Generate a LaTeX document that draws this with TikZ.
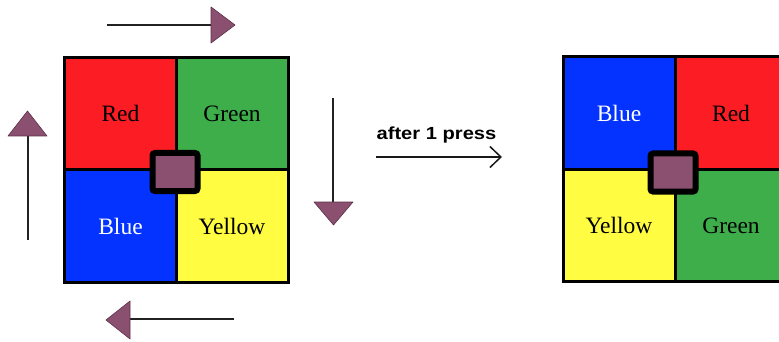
\documentclass[tikz,border=0pt]{standalone}
\usepackage{fontspec}
\setmainfont{Liberation Serif}
\newfontfamily\labelsans{Liberation Sans}
\usepackage{graphicx}
\usetikzlibrary{arrows.meta}
\definecolor{cred}{HTML}{FC1C24}
\definecolor{cgreen}{HTML}{3DAE4A}
\definecolor{cblue}{HTML}{0433FF}
\definecolor{cyellow}{HTML}{FFFC41}
\definecolor{knobpurple}{HTML}{8B5070}
\definecolor{shaftgray}{HTML}{222222}
\definecolor{headedge}{HTML}{5A3048}
\begin{document}
\begin{tikzpicture}[x=1pt,y=-1pt,
  cell/.style={rectangle, draw=black, line width=3pt, minimum width=112pt, minimum height=112.5pt, inner sep=0pt, font=\fontsize{23.5}{25}\selectfont},
  knob/.style={rectangle, rounded corners=2.5pt, fill=knobpurple, draw=black, line width=6pt, minimum width=45pt, minimum height=38pt},
  shaft/.style={line width=2.8pt, draw=shaftgray},
  head/.style={fill=knobpurple, draw=headedge, line width=0.6pt, line join=round}]
\useasboundingbox (0,0) rectangle (779,342);

% left grid
\node[cell, fill=cred] (lred) at (120.5,113.5) {Red};
\node[cell, fill=cgreen] (lgreen) at (232,113.5) {Green};
\node[cell, fill=cblue, text=white] (lblue) at (120.5,226) {Blue};
\node[cell, fill=cyellow] (lyellow) at (232,226) {Yellow};
\node[knob] (lknob) at (175,172) {};

% right grid
\node[cell, fill=cblue, text=white] (rblue) at (619,113) {Blue};
\node[cell, fill=cred] (rred) at (731,113) {Red};
\node[cell, fill=cyellow] (ryellow) at (619,225.5) {Yellow};
\node[cell, fill=cgreen] (rgreen) at (731,225.5) {Green};
\node[knob] (rknob) at (673,172.5) {};

% top arrow (right)
\coordinate (ts) at (107,25);
\coordinate (tb) at (211,25);
\coordinate (ta) at (211,7);
\coordinate (tc) at (211,43);
\coordinate (tt) at (235,25);
\draw[shaft] (ts) -- (tb);
\filldraw[head] (ta) -- (tt) -- (tc) -- cycle;

% right arrow (down)
\coordinate (rs) at (333,98);
\coordinate (rb) at (333,202);
\coordinate (ra) at (314,202);
\coordinate (rc) at (353,202);
\coordinate (rt) at (333.5,225);
\draw[shaft] (rs) -- (rb);
\filldraw[head] (ra) -- (rt) -- (rc) -- cycle;

% bottom arrow (left)
\coordinate (bs) at (234,319);
\coordinate (bb) at (130,319);
\coordinate (ba) at (130,301);
\coordinate (bc) at (130,339);
\coordinate (bt) at (106,320);
\draw[shaft] (bs) -- (bb);
\filldraw[head] (ba) -- (bt) -- (bc) -- cycle;

% left arrow (up)
\coordinate (ls) at (28,240);
\coordinate (lb) at (28,136);
\coordinate (la) at (8,136);
\coordinate (lc) at (47,136);
\coordinate (lt) at (27.5,111);
\draw[shaft] (ls) -- (lb);
\filldraw[head] (la) -- (lt) -- (lc) -- cycle;

% middle arrow
\coordinate (m1) at (376,157);
\coordinate (m2) at (502,157);
\draw[line width=1.5pt, color=black!90, -{Straight Barb[length=11pt,width=21pt,line width=1.5pt]}] (m1) -- (m2);
\node[anchor=base, inner sep=0pt, font=\labelsans\bfseries\fontsize{17.5}{19}\selectfont] (lbl) at (436.5,140) {\scalebox{1.15}[1]{after 1 press}};
\end{tikzpicture}
\end{document}
